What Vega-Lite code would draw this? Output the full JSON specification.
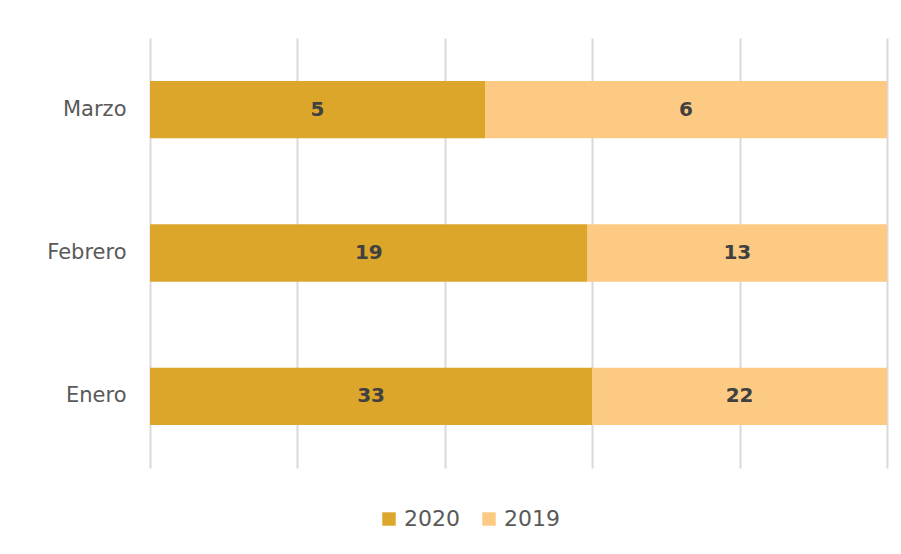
{
  "$schema": "https://vega.github.io/schema/vega-lite/v6.json",
  "width": 737,
  "height": 430,
  "autosize": "none",
  "padding": {"left": 150, "top": 38, "right": 14, "bottom": 86},
  "background": "white",
  "data": {
    "values": [
      {"mes": "Marzo", "year": "2020", "value": 5},
      {"mes": "Marzo", "year": "2019", "value": 6},
      {"mes": "Febrero", "year": "2020", "value": 19},
      {"mes": "Febrero", "year": "2019", "value": 13},
      {"mes": "Enero", "year": "2020", "value": 33},
      {"mes": "Enero", "year": "2019", "value": 22}
    ]
  },
  "encoding": {
    "y": {
      "field": "mes",
      "type": "nominal",
      "sort": ["Marzo", "Febrero", "Enero"],
      "scale": {"paddingInner": 0.6, "paddingOuter": 0.3},
      "axis": {
        "title": null,
        "domain": false,
        "ticks": false,
        "labelFont": "DejaVu Sans",
        "labelFontSize": 21,
        "labelColor": "#595959",
        "labelPadding": 24
      }
    },
    "x": {
      "aggregate": "sum",
      "field": "value",
      "type": "quantitative",
      "stack": "normalize",
      "scale": {"domain": [0, 1], "nice": false},
      "axis": {
        "title": null,
        "labels": false,
        "ticks": false,
        "domain": false,
        "values": [0, 0.2, 0.4, 0.6, 0.8, 1],
        "gridColor": "#d9d9d9",
        "gridWidth": 2
      }
    },
    "order": {"field": "year", "sort": "descending"}
  },
  "layer": [
    {
      "mark": {"type": "bar"},
      "encoding": {
        "color": {
          "field": "year",
          "type": "nominal",
          "scale": {"domain": ["2020", "2019"], "range": ["#DCA62A", "#FCCA82"]},
          "legend": {
            "title": null,
            "orient": "none",
            "direction": "horizontal",
            "legendX": 228,
            "legendY": 470,
            "symbolType": "square",
            "symbolSize": 180,
            "symbolStrokeWidth": 0,
            "labelFont": "DejaVu Sans",
            "labelFontSize": 22,
            "labelColor": "#595959",
            "columnPadding": 18,
            "labelOffset": 4
          }
        }
      }
    },
    {
      "mark": {"type": "text", "font": "DejaVu Sans", "fontWeight": "bold", "fontSize": 20, "color": "#404040"},
      "encoding": {
        "x": {
          "aggregate": "sum",
          "field": "value",
          "type": "quantitative",
          "stack": "normalize",
          "bandPosition": 0.5
        },
        "text": {"aggregate": "sum", "field": "value", "type": "quantitative"}
      }
    }
  ],
  "config": {"view": {"stroke": null}}
}
